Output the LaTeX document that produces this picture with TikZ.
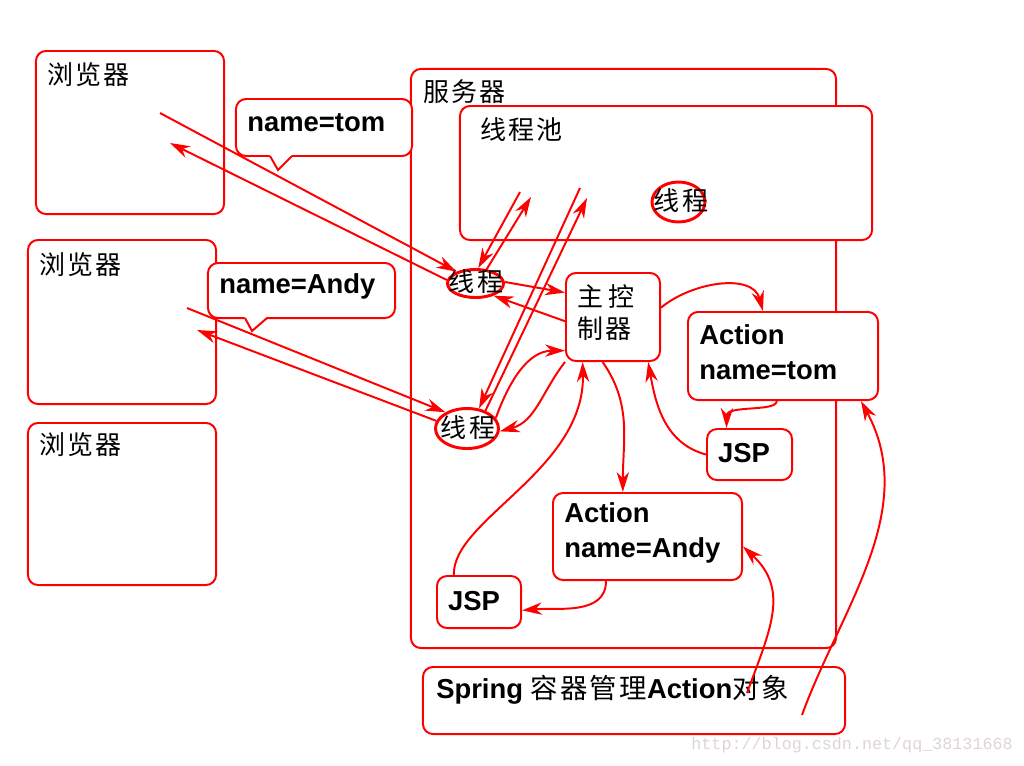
\documentclass[tikz,border=0pt]{standalone}
\usepackage{fontspec}
\setmainfont{Liberation Sans}
\setmonofont{Liberation Mono}
\newfontfamily\cjk{Noto Sans CJK SC}[LetterSpace=8]
\usetikzlibrary{arrows.meta,shapes.geometric}
\definecolor{wmgray}{RGB}{222,212,212}

\begin{document}
\begin{tikzpicture}[x=0.025cm, y=-0.025cm,
		box/.style={draw=red, line width=1.4pt, rounded corners=0.25cm, fill=white, inner sep=0pt},
		thread/.style={ellipse, draw=red, line width=2.1pt, fill=white, inner sep=0pt},
		zh/.style={font=\cjk\fontsize{18.5}{22.8}\selectfont, inner sep=0pt, align=left},
		en/.style={font=\bfseries\fontsize{19.5}{24.9}\selectfont, inner sep=0pt, align=left},
		link/.style={draw=red, line width=1.4pt, -{Stealth[length=5mm, width=3.1mm, inset=1.6mm]}}]
		%%%%% START %%%%%
		\useasboundingbox (0,0) rectangle (1024,765);
		
		% server and thread pool
		\node[box, minimum width=10.625cm, minimum height=14.475cm] (srv) at (623.5,358.5) {};
		\node[zh, anchor=west] at (423,92) {服务器};
		\node[box, minimum width=10.3cm, minimum height=3.35cm] (pool) at (666,173) {};
		\node[zh, anchor=west] at (480,130) {线程池};
		\node[thread, minimum width=1.325cm, minimum height=1cm] (pt) at (678.5,202) {};
		\node[zh] at (681,201) {线程};
		
		% browsers
		\node[box, minimum width=4.7cm, minimum height=4.075cm] (b1) at (130,132.5) {};
		\node[zh, anchor=west] at (47,75) {浏览器};
		\node[box, minimum width=4.7cm, minimum height=4.1cm] (b2) at (122,322) {};
		\node[zh, anchor=west] at (39,265) {浏览器};
		\node[box, minimum width=4.7cm, minimum height=4.05cm] (b3) at (122,504) {};
		\node[zh, anchor=west] at (39,445) {浏览器};
		
		% request callouts
		\node[box, minimum width=4.4cm, minimum height=1.425cm] (calltom) at (324,127.5) {};
		\fill[white] (269,154) -- (278,170) -- (293,154) -- cycle;
		\draw[red, line width=1.4pt] (270,156) -- (278,170) -- (292,156);
		\node[en, anchor=west] at (247,123) {name=tom};
		\node[box, minimum width=4.675cm, minimum height=1.375cm] (callandy) at (301.5,290.5) {};
		\fill[white] (244,316) -- (252,331) -- (268,316) -- cycle;
		\draw[red, line width=1.4pt] (245,318) -- (252,331) -- (267,318);
		\node[en, anchor=west] at (219,286) {name=Andy};
		
		% controller, actions, jsp
		\node[box, minimum width=2.35cm, minimum height=2.2cm] (ctrl) at (613,317) {};
		\node[zh, anchor=west] at (577,313) {主\hspace{0.2em}控\\制器};
		\node[box, minimum width=4.75cm, minimum height=2.2cm] (acttom) at (783,356) {};
		\node[en, anchor=west] at (699,352) {Action\\name=tom};
		\node[box, minimum width=2.125cm, minimum height=1.275cm] (jsp1) at (749.5,454.5) {};
		\node[en] at (744,453) {JSP};
		\node[box, minimum width=4.725cm, minimum height=2.175cm] (actandy) at (647.5,536.5) {};
		\node[en, anchor=west] at (564,533) {Action\\name=Andy};
		\node[box, minimum width=2.1cm, minimum height=1.3cm] (jsp2) at (479,602) {};
		\node[en] at (474,601) {JSP};
		\node[box, minimum width=10.55cm, minimum height=1.675cm] (spring) at (634,700.5) {};
		\node[en, anchor=west] at (436,690) {Spring {\cjk\mdseries 容器管理}Action{\cjk\mdseries 对象}};
		
		% worker threads
		\node[thread, minimum width=1.4cm, minimum height=0.7cm] (t1) at (475.5,283.5) {};
		\node[zh] at (476,282) {线程};
		\node[thread, minimum width=1.575cm, minimum height=1cm] (t2) at (467,428.5) {};
		\node[zh] at (468,428) {线程};
		
		\coordinate (b1out) at (160,113);
		\coordinate (b1in) at (170,143);
		\coordinate (b2out) at (187,308);
		\coordinate (b2in) at (197,330);
		\coordinate (p1) at (520,192);
		\coordinate (p2) at (531,197);
		\coordinate (p3) at (580,188);
		\coordinate (p4) at (587,198);
		\coordinate (sp1) at (747,693);
		\coordinate (sp2) at (802,715);
		
		% requests and responses
		\draw[link] (b1out) -- (t1.148);
		\draw[link] (t1.173) -- (b1in);
		\draw[link] (b2out) -- (t2.143);
		\draw[link] (t2.166) -- (b2in);
		
		% taken from / given back to the pool
		\draw[link] (p1) -- (t1.80);
		\draw[link] (t1.52) -- (p2);
		\draw[link] (p3) -- (t2.59);
		\draw[link] (t2.44) -- (p4);
		
		\draw[link] (t1.3) -- (ctrl.153);
		\draw[link] (ctrl.185) -- (t1.326);
		\draw[link] (t2.20) to[out=70, in=180] (ctrl.215);
		\draw[link] (ctrl.south west) to[out=232, in=15] (t2.355);
		
		\draw[link] (ctrl.11) to[out=40, in=105] (acttom.114);
		\draw[link] (acttom.262) .. controls (777,412) and (727,405) .. (jsp1.131);
		\draw[link] (jsp1.west) to[out=165, in=-80] (ctrl.308);
		
		\draw[link] (ctrl.257) to[out=-55, in=90] (actandy.119);
		\draw[link] (actandy.227) to[out=-90, in=5] (jsp2.349);
		\draw[link] (jsp2.133) .. controls (452,520) and (585,470) .. (ctrl.236);
		
		\draw[link] (sp1) .. controls (770,630) and (790,590) .. (actandy.354);
		\draw[link] (sp2) .. controls (840,610) and (920,510) .. (acttom.330);
		
		\node[font=\ttfamily\fontsize{11.9}{14}\selectfont, text=wmgray, anchor=east, inner sep=0pt] at (1013,745) {http://blog.csdn.net/qq\_38131668};
		%%%%% END %%%%%
	\end{tikzpicture}
\end{document}
